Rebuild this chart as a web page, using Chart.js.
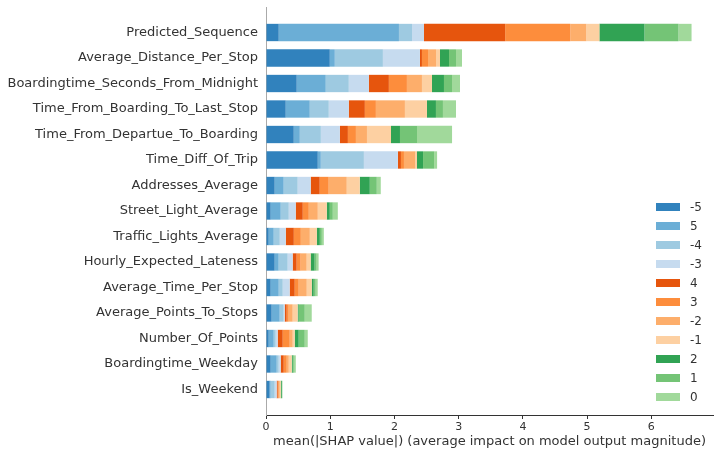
<!DOCTYPE html>
<html>
<head>
<meta charset="utf-8">
<script src="https://cdn.jsdelivr.net/npm/chart.js@4/dist/chart.umd.min.js"></script>
<style>
  html, body { margin: 0; padding: 0; background: #fff; }
  #wrap { width: 719px; height: 456px; position: relative; }
</style>
</head>
<body>
<div id="wrap"><canvas id="c" width="719" height="456"></canvas></div>
<script>
const features = [
  "Predicted_Sequence", "Average_Distance_Per_Stop", "Boardingtime_Seconds_From_Midnight",
  "Time_From_Boarding_To_Last_Stop", "Time_From_Departue_To_Boarding", "Time_Diff_Of_Trip",
  "Addresses_Average", "Street_Light_Average", "Traffic_Lights_Average",
  "Hourly_Expected_Lateness", "Average_Time_Per_Stop", "Average_Points_To_Stops",
  "Number_Of_Points", "Boardingtime_Weekday", "Is_Weekend"
];
const classLabels = ["-5", "5", "-4", "-3", "4", "3", "-2", "-1", "2", "1", "0"];
const classColors = ["#3182bd", "#6baed6", "#9ecae1", "#c6dbef", "#e6550d", "#fd8d3c",
                     "#fdae6b", "#fdd0a2", "#31a354", "#74c476", "#a1d99b"];

// mean |SHAP| per class, per feature (feature order as above)
const cls_m5 = [0.198, 0.993, 0.478, 0.307, 0.432, 0.806, 0.135, 0.073, 0.042, 0.135, 0.073, 0.088, 0.042, 0.073, 0.057];
const cls_p5 = [1.872, 0.078, 0.452, 0.374, 0.094, 0.047, 0.140, 0.156, 0.078, 0.062, 0.125, 0.125, 0.078, 0.094, 0.016];
const cls_m4 = [0.203, 0.749, 0.359, 0.296, 0.328, 0.671, 0.218, 0.125, 0.094, 0.140, 0.062, 0.062, 0.031, 0.031, 0.062];
const cls_m3 = [0.187, 0.577, 0.312, 0.312, 0.296, 0.530, 0.203, 0.109, 0.094, 0.078, 0.109, 0.016, 0.031, 0.031, 0.031];
const cls_p4 = [1.264, 0.031, 0.312, 0.250, 0.125, 0.047, 0.140, 0.109, 0.125, 0.062, 0.078, 0.031, 0.078, 0.047, 0.016];
const cls_p3 = [1.014, 0.094, 0.281, 0.172, 0.125, 0.047, 0.140, 0.094, 0.109, 0.062, 0.062, 0.031, 0.109, 0.047, 0.016];
const cls_m2 = [0.250, 0.125, 0.234, 0.452, 0.172, 0.172, 0.281, 0.140, 0.140, 0.094, 0.125, 0.062, 0.047, 0.031, 0.016];
const cls_m1 = [0.203, 0.062, 0.156, 0.343, 0.374, 0.031, 0.203, 0.140, 0.109, 0.062, 0.078, 0.078, 0.031, 0.047, 0.016];
const cls_p2 = [0.702, 0.140, 0.187, 0.140, 0.140, 0.094, 0.156, 0.047, 0.047, 0.062, 0.031, 0.016, 0.062, 0.016, 0.016];
const cls_p1 = [0.530, 0.109, 0.125, 0.109, 0.265, 0.172, 0.109, 0.047, 0.031, 0.031, 0.031, 0.094, 0.094, 0.016, 0.005];
const cls_p0 = [0.203, 0.094, 0.125, 0.203, 0.546, 0.047, 0.062, 0.078, 0.031, 0.031, 0.031, 0.109, 0.047, 0.031, 0.005];

const classValues = [cls_m5, cls_p5, cls_m4, cls_m3, cls_p4, cls_p3, cls_m2, cls_m1, cls_p2, cls_p1, cls_p0];
const xTicks = [0, 1, 2, 3, 4, 5, 6];
const xMax = 6.96;
const xTitle = "mean(|SHAP value|) (average impact on model output magnitude)";

const FONT = "'DejaVu Sans', sans-serif";
const TEXT = "#333333";

const datasets = classLabels.map((lab, k) => ({
  label: lab,
  data: classValues[k].map((v, i) => ({ x: v, y: i })),
  backgroundColor: classColors[k],
  borderWidth: 0,
  categoryPercentage: 1.0,
  barPercentage: 0.68
}));

const legendPlugin = {
  id: 'shapLegend',
  afterDraw(chart) {
    const ctx = chart.ctx;
    const ca = chart.chartArea;
    const bx = ca.right - 57;
    const startY = ca.bottom - 208;
    ctx.save();
    ctx.font = "12px " + FONT;
    ctx.textBaseline = "middle";
    ctx.textAlign = "left";
    chart.data.datasets.forEach((ds, k) => {
      const cy = startY + k * 19;
      ctx.fillStyle = ds.backgroundColor;
      ctx.fillRect(bx, cy - 4, 24, 8);
      ctx.fillStyle = TEXT;
      ctx.fillText(ds.label, bx + 34, cy + 0.5);
    });
    ctx.restore();
  }
};

new Chart(document.getElementById('c'), {
  type: 'bar',
  data: { datasets },
  plugins: [legendPlugin],
  options: {
    indexAxis: 'y',
    responsive: false,
    animation: false,
    layout: { padding: { left: 0, right: 6, top: 7, bottom: 0 } },
    plugins: {
      legend: { display: false },
      tooltip: { enabled: false }
    },
    scales: {
      x: {
        type: 'linear',
        stacked: true,
        min: 0,
        max: xMax,
        afterBuildTicks(scale) { scale.ticks = xTicks.map(v => ({ value: v })); },
        ticks: { font: { size: 11, family: FONT }, color: TEXT, padding: 2, includeBounds: false },
        grid: { display: true, drawOnChartArea: false, drawTicks: true, tickLength: 4, color: TEXT },
        border: { display: true, color: TEXT, width: 1 },
        title: { display: true, text: xTitle, font: { size: 13, family: FONT }, color: TEXT, padding: { top: 0, bottom: 7 } },
        afterFit(scale) { scale.height = 41; scale.paddingLeft = 0; scale.paddingRight = 0; }
      },
      y: {
        type: 'linear',
        stacked: true,
        reverse: true,
        offset: false,
        min: -1,
        max: features.length,
        afterBuildTicks(scale) { scale.ticks = features.map((f, i) => ({ value: i })); },
        ticks: {
          autoSkip: false,
          font: { size: 13, family: FONT },
          color: TEXT,
          padding: 8,
          callback: (v) => features[v] !== undefined ? features[v] : ''
        },
        grid: { display: false, drawTicks: false },
        border: { display: true, color: '#aaaaaa', width: 1 },
        afterFit(scale) { scale.width = 266; scale.paddingTop = 0; scale.paddingBottom = 0; }
      }
    }
  }
});
</script>
</body>
</html>
